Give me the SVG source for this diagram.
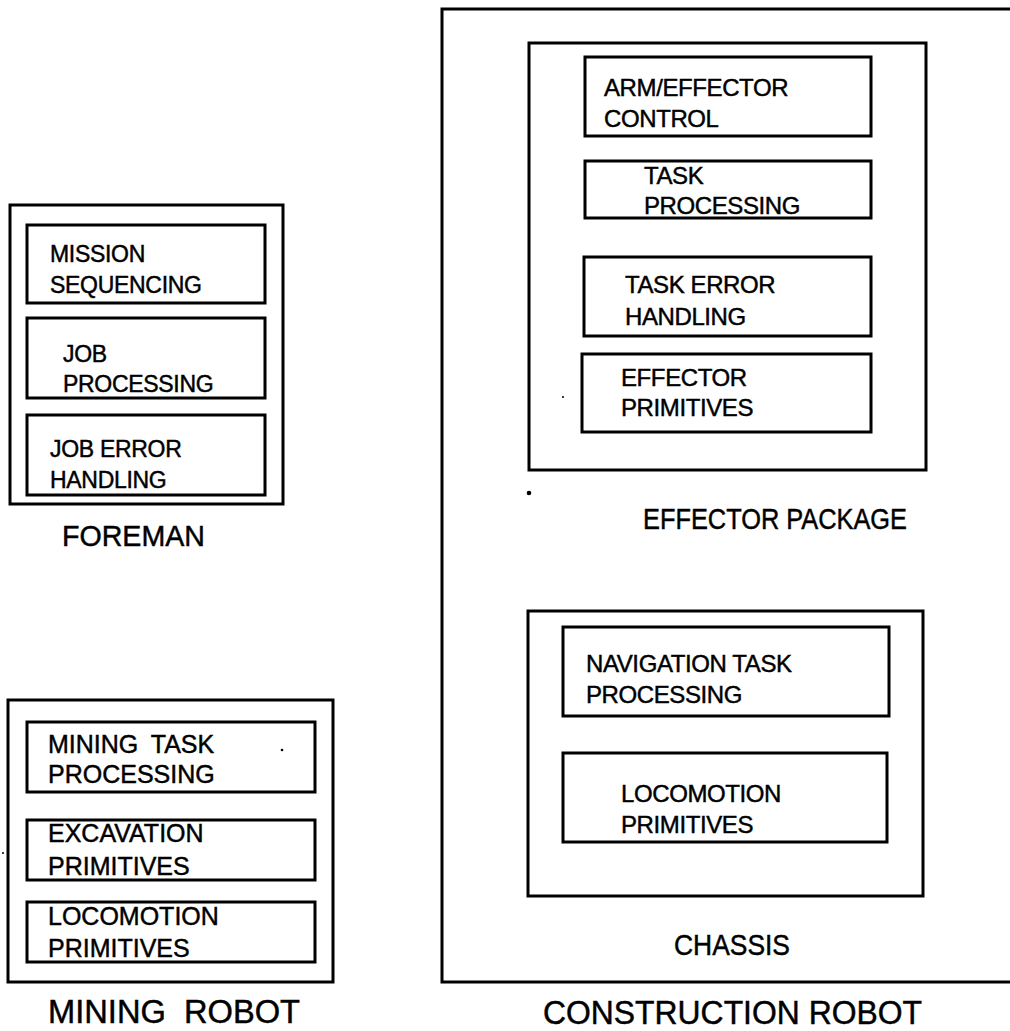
<svg xmlns="http://www.w3.org/2000/svg" width="1010" height="1031" viewBox="0 0 1010 1031">
<style>
  .box { fill: none; stroke: #000; stroke-width: 3; }
  .t { font-family: "Liberation Sans", Arial, Helvetica, sans-serif; fill: #000; stroke: #000; stroke-width: 0.45px; }
  .s23 { font-size: 23px; letter-spacing: -0.3px; }
  .s24 { font-size: 24px; letter-spacing: -0.4px; }
  .s25 { font-size: 25px; }
  .lbl { font-size: 29px; }
  .big { font-size: 33px; }
  .dot { fill: #000; }
</style>
<rect width="1010" height="1031" fill="#fff"/>

<g id="foreman">
  <rect class="box" x="10" y="205" width="273" height="299"/>
  <g id="mission-sequencing">
    <rect class="box" x="27" y="225" width="238" height="78"/>
    <text class="t s23" x="50" y="262">MISSION</text>
    <text class="t s23" x="50" y="293">SEQUENCING</text>
  </g>
  <g id="job-processing">
    <rect class="box" x="27" y="318" width="238" height="80"/>
    <text class="t s23" x="63" y="362">JOB</text>
    <text class="t s23" x="63" y="392">PROCESSING</text>
  </g>
  <g id="job-error-handling">
    <rect class="box" x="27" y="415" width="238" height="80"/>
    <text class="t s23" x="50" y="457">JOB ERROR</text>
    <text class="t s23" x="50" y="488">HANDLING</text>
  </g>
  <text class="t lbl" x="62" y="546" textLength="143" lengthAdjust="spacingAndGlyphs">FOREMAN</text>
</g>

<g id="mining-robot">
  <rect class="box" x="8" y="700" width="325" height="282"/>
  <g id="mining-task-processing">
    <rect class="box" x="27" y="722" width="288" height="70"/>
    <text class="t s25" x="48" y="753" word-spacing="6">MINING TASK</text>
    <text class="t s25" x="48" y="783">PROCESSING</text>
  </g>
  <g id="excavation-primitives">
    <rect class="box" x="27" y="820" width="288" height="60"/>
    <text class="t s25" x="48" y="842">EXCAVATION</text>
    <text class="t s25" x="48" y="875">PRIMITIVES</text>
  </g>
  <g id="mining-locomotion-primitives">
    <rect class="box" x="27" y="902" width="288" height="60"/>
    <text class="t s25" x="48" y="925">LOCOMOTION</text>
    <text class="t s25" x="48" y="957">PRIMITIVES</text>
  </g>
  <circle class="dot" cx="282" cy="750" r="1.3"/>
  <text class="t big" x="48" y="1023" textLength="252" lengthAdjust="spacingAndGlyphs">MINING&#160; ROBOT</text>
</g>

<g id="construction-robot">
  <rect class="box" x="442" y="9" width="600" height="973"/>
  <g id="effector-package">
    <rect class="box" x="529" y="43" width="397" height="427"/>
    <g id="arm-effector-control">
      <rect class="box" x="585" y="57" width="286" height="79"/>
      <text class="t s24" x="604" y="96">ARM/EFFECTOR</text>
      <text class="t s24" x="604" y="127">CONTROL</text>
    </g>
    <g id="task-processing">
      <rect class="box" x="585" y="161" width="286" height="57"/>
      <text class="t s24" x="644" y="184">TASK</text>
      <text class="t s24" x="644" y="214">PROCESSING</text>
    </g>
    <g id="task-error-handling">
      <rect class="box" x="584" y="257" width="287" height="79"/>
      <text class="t s24" x="625" y="293">TASK ERROR</text>
      <text class="t s24" x="625" y="325">HANDLING</text>
    </g>
    <g id="effector-primitives">
      <rect class="box" x="582" y="354" width="289" height="78"/>
      <text class="t s24" x="621" y="386">EFFECTOR</text>
      <text class="t s24" x="621" y="416">PRIMITIVES</text>
    </g>
    <circle class="dot" cx="563" cy="397" r="1"/>
    <text class="t lbl" x="643" y="529" textLength="264" lengthAdjust="spacingAndGlyphs">EFFECTOR PACKAGE</text>
  </g>
  <circle class="dot" cx="529" cy="493" r="2.3"/>
  <g id="chassis">
    <rect class="box" x="528" y="611" width="395" height="285"/>
    <g id="navigation-task-processing">
      <rect class="box" x="563" y="627" width="326" height="89"/>
      <text class="t s24" x="586" y="672">NAVIGATION TASK</text>
      <text class="t s24" x="586" y="703">PROCESSING</text>
    </g>
    <g id="chassis-locomotion-primitives">
      <rect class="box" x="563" y="753" width="324" height="89"/>
      <text class="t s24" x="621" y="802">LOCOMOTION</text>
      <text class="t s24" x="621" y="833">PRIMITIVES</text>
    </g>
    <text class="t lbl" x="674" y="955" textLength="116" lengthAdjust="spacingAndGlyphs">CHASSIS</text>
  </g>
  <text class="t big" x="543" y="1024" textLength="379" lengthAdjust="spacingAndGlyphs">CONSTRUCTION ROBOT</text>
</g>
<circle class="dot" cx="3" cy="853" r="1"/>
</svg>
